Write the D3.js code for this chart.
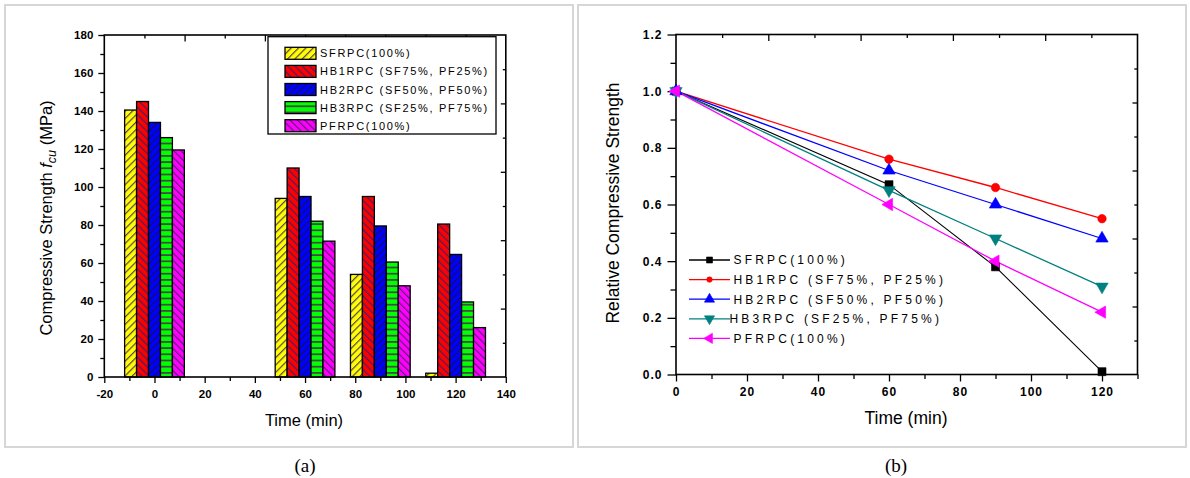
<!DOCTYPE html>
<html>
<head>
<meta charset="utf-8">
<script src="https://cdn.jsdelivr.net/npm/d3@7"></script>
<style>
  html, body { margin: 0; padding: 0; background: #fff; }
  svg { display: block; font-family: "Liberation Sans", Arial, sans-serif; }
</style>
</head>
<body>
<svg id="fig" width="1190" height="478"></svg>
<script>
// ---- data ----------------------------------------------------------
// curing / exposure times (min)
const times = [0, 60, 90, 120];
const seriesNames = [
  "SFRPC(100%)",
  "HB1RPC (SF75%, PF25%)",
  "HB2RPC (SF50%, PF50%)",
  "HB3RPC (SF25%, PF75%)",
  "PFRPC(100%)"
];
// compressive strength f_cu (MPa)
const strengthSF  = [140.5, 94, 54, 2];
const strengthHB1 = [145, 110, 95, 80.5];
const strengthHB2 = [134, 95, 79.5, 64.5];
const strengthHB3 = [126, 82, 60.5, 39.5];
const strengthPF  = [119.5, 71.5, 48, 26];
// relative compressive strength (f_cu(t) / f_cu(0))
const relSF  = [1.0, 0.67, 0.38, 0.01];
const relHB1 = [1.0, 0.76, 0.66, 0.55];
const relHB2 = [1.0, 0.72, 0.60, 0.48];
const relHB3 = [1.0, 0.65, 0.48, 0.31];
const relPF  = [1.0, 0.60, 0.40, 0.22];
// tick values
const barXTicks = [-20, 0, 20, 40, 60, 80, 100, 120, 140];
const barYTicks = [0, 20, 40, 60, 80, 100, 120, 140, 160, 180];
const relXTicks = [0, 20, 40, 60, 80, 100, 120];
const relYTicks = [0, 0.2, 0.4, 0.6, 0.8, 1.0, 1.2];

// ---- styling -------------------------------------------------------
const strengths = [strengthSF, strengthHB1, strengthHB2, strengthHB3, strengthPF];
const relatives = [relSF, relHB1, relHB2, relHB3, relPF];
const barFill   = ["#ffff00", "#ff0000", "#0000ff", "#00ff00", "#ff00ff"];
const hatchType = ["fwd", "back", "fwd", "horiz", "back"];
const hatchInk  = ["#5a4060", "#4a2060", "#10105a", "#484848", "#5a2070"];
const lineColor = ["#000000", "#ff0000", "#0000ff", "#008080", "#ff00ff"];
const markerKind = ["square", "circle", "up", "down", "left"];

const svg = d3.select("#fig");
const defs = svg.append("defs");

// hatch patterns
hatchType.forEach((t, i) => {
  const p = defs.append("pattern")
    .attr("id", "hatch" + i)
    .attr("patternUnits", "userSpaceOnUse");
  if (t === "horiz") {
    p.attr("width", 8).attr("height", 6.2);
    p.append("rect").attr("width", 8).attr("height", 6.2).attr("fill", barFill[i]);
    p.append("rect").attr("y", 0).attr("width", 8).attr("height", 1.8).attr("fill", hatchInk[i]);
  } else {
    p.attr("width", 5.2).attr("height", 10)
     .attr("patternTransform", t === "fwd" ? "rotate(45)" : "rotate(-45)");
    p.append("rect").attr("width", 5.2).attr("height", 10).attr("fill", barFill[i]);
    p.append("line").attr("x1", 0.6).attr("x2", 0.6).attr("y1", 0).attr("y2", 10)
      .attr("stroke", hatchInk[i]).attr("stroke-width", 1.2);
  }
});

// panel frames
svg.append("rect").attr("x", 5).attr("y", 5).attr("width", 568).attr("height", 442)
  .attr("fill", "none").attr("stroke", "#d6d6d6").attr("stroke-width", 2);
svg.append("rect").attr("x", 578).attr("y", 5).attr("width", 608).attr("height", 442)
  .attr("fill", "none").attr("stroke", "#d6d6d6").attr("stroke-width", 2);

// generic tick drawing (outward on bottom/left, inward on top/right)
function ticks(g, axisFn, scale, values, size, fmt, padding) {
  const a = axisFn(scale).tickValues(values).tickSize(size).tickPadding(padding || 3)
    .tickFormat(fmt || (() => ""));
  g.call(a);
  g.select(".domain").remove();
  g.selectAll(".tick line").attr("stroke", "#000").attr("stroke-width", 1.3);
  return g;
}

// ==== (a) bar chart =================================================
const xa = d3.scaleLinear().domain([-20, 140]).range([104.3, 505.8]);
const ya = d3.scaleLinear().domain([0, 180]).range([377, 35]);
const ga = svg.append("g");

const barW = 4.76; // bar width in time units
strengths.forEach((vals, i) => {
  ga.selectAll(null).data(times.map((t, k) => ({ t, v: vals[k] })))
    .enter().append("rect")
    .attr("x", d => xa(d.t + (i - 2.5) * barW))
    .attr("width", d => xa(d.t + (i - 1.5) * barW) - xa(d.t + (i - 2.5) * barW))
    .attr("y", d => ya(d.v))
    .attr("height", d => ya(0) - ya(d.v))
    .attr("fill", `url(#hatch${i})`)
    .attr("stroke", "#000").attr("stroke-width", 1.3);
});

// axes for (a)
const fmtInt = d => String(d);
const axA = ga.append("g").attr("font-weight", "bold");
ticks(axA.append("g").attr("transform", `translate(0,${ya(0)})`), d3.axisBottom, xa, barXTicks, 6, fmtInt, 7);
ticks(axA.append("g").attr("transform", `translate(0,${ya(0)})`), d3.axisBottom, xa, d3.range(-10, 140, 20), 4);
ticks(axA.append("g").attr("transform", `translate(${xa(-20)},0)`), d3.axisLeft, ya, barYTicks, 6, fmtInt, 5);
ticks(axA.append("g").attr("transform", `translate(${xa(-20)},0)`), d3.axisLeft, ya, d3.range(10, 180, 20), 4);
// mirrored top / right axes with their own ten divisions
const topA = d3.scaleLinear().domain([0, 10]).range(xa.range());
const rightA = d3.scaleLinear().domain([0, 10]).range(ya.range());
ticks(axA.append("g").attr("transform", `translate(0,${ya(180)})`), d3.axisBottom, topA, [2, 4, 6, 8], 6.5);
ticks(axA.append("g").attr("transform", `translate(0,${ya(180)})`), d3.axisBottom, topA, [1, 3, 5, 7, 9], 3.5);
ticks(axA.append("g").attr("transform", `translate(${xa(140)},0)`), d3.axisLeft, rightA, [2, 4, 6, 8], 5);
ticks(axA.append("g").attr("transform", `translate(${xa(140)},0)`), d3.axisLeft, rightA, [1, 3, 5, 7, 9], 3);
axA.selectAll("text").attr("font-size", 11.5).attr("fill", "#000")
  .attr("font-family", "'Liberation Sans', Arial, sans-serif");

ga.append("rect").attr("x", xa(-20)).attr("y", ya(180))
  .attr("width", xa(140) - xa(-20)).attr("height", ya(0) - ya(180))
  .attr("fill", "none").attr("stroke", "#000").attr("stroke-width", 1.6);

// axis titles (a)
ga.append("text").attr("x", 304).attr("y", 426).attr("text-anchor", "middle")
  .attr("font-size", 16.5).text("Time (min)");
const ytA = ga.append("text").attr("transform", "translate(52,218) rotate(-90)")
  .attr("text-anchor", "middle").attr("font-size", 16.5);
ytA.append("tspan").text("Compressive Strength ");
ytA.append("tspan").attr("font-style", "italic").text("f");
ytA.append("tspan").attr("font-style", "italic").attr("font-size", 12.5).attr("dy", 4).text("cu");
ytA.append("tspan").attr("dy", -4).text(" (MPa)");

// legend (a)
const legA = ga.append("g");
legA.append("rect").attr("x", 268).attr("y", 36.7).attr("width", 228).attr("height", 97.3)
  .attr("fill", "#fff").attr("stroke", "#000").attr("stroke-width", 1.3);
seriesNames.forEach((name, i) => {
  const cy = 53.3 + i * 18.1;
  legA.append("rect").attr("x", 285).attr("y", cy - 6).attr("width", 31).attr("height", 12)
    .attr("fill", `url(#hatch${i})`).attr("stroke", "#000").attr("stroke-width", 1.3);
  legA.append("text").attr("x", 320).attr("y", cy + 4).attr("font-size", 11)
    .attr("letter-spacing", "1.7px").text(name);
});

svg.append("text").attr("x", 305).attr("y", 472).attr("text-anchor", "middle")
  .attr("font-family", "'Liberation Serif', 'Times New Roman', serif").attr("font-size", 19)
  .text("(a)");

// ==== (b) line chart ================================================
const xb = d3.scaleLinear().domain([0, 130]).range([676, 1137.5]);
const yb = d3.scaleLinear().domain([0, 1.2]).range([374.5, 34.5]);
const gb = svg.append("g");

const axB = gb.append("g").attr("font-weight", "bold");
ticks(axB.append("g").attr("transform", `translate(0,${yb(0)})`), d3.axisBottom, xb, relXTicks, 7, fmtInt, 6);
ticks(axB.append("g").attr("transform", `translate(0,${yb(0)})`), d3.axisBottom, xb, d3.range(10, 131, 20), 4.5);
ticks(axB.append("g").attr("transform", `translate(${xb(0)},0)`), d3.axisLeft, yb, relYTicks, 8.5, d3.format(".1f"), 5);
ticks(axB.append("g").attr("transform", `translate(${xb(0)},0)`), d3.axisLeft, yb, [0.1, 0.3, 0.5, 0.7, 0.9, 1.1], 5.5);
const topB = d3.scaleLinear().domain([0, 10]).range(xb.range());
const rightB = d3.scaleLinear().domain([0, 10]).range(yb.range());
ticks(axB.append("g").attr("transform", `translate(0,${yb(1.2)})`), d3.axisBottom, topB, [2, 4, 6, 8], 6.5);
ticks(axB.append("g").attr("transform", `translate(0,${yb(1.2)})`), d3.axisBottom, topB, [1, 3, 5, 7, 9], 3.5);
ticks(axB.append("g").attr("transform", `translate(${xb(130)},0)`), d3.axisLeft, rightB, [2, 4, 6, 8], 5);
ticks(axB.append("g").attr("transform", `translate(${xb(130)},0)`), d3.axisLeft, rightB, [1, 3, 5, 7, 9], 3.2);
axB.selectAll("text").attr("font-size", 12).attr("fill", "#000").attr("letter-spacing", "1px")
  .attr("font-family", "'Liberation Sans', Arial, sans-serif");

gb.append("rect").attr("x", xb(0)).attr("y", yb(1.2))
  .attr("width", xb(130) - xb(0)).attr("height", yb(0) - yb(1.2))
  .attr("fill", "none").attr("stroke", "#000").attr("stroke-width", 1.6);

// marker shapes
function marker(sel, kind, color, s) {
  const sym = {
    square: [d3.symbolSquare, 0],
    circle: [d3.symbolCircle, 0],
    up: [d3.symbolTriangle, 0],
    down: [d3.symbolTriangle, 180],
    left: [d3.symbolTriangle, -90]
  }[kind];
  const area = kind === "square" ? s * s : kind === "circle" ? Math.PI * s * s / 4 : s * s * 0.5;
  sel.append("path").attr("d", d3.symbol().type(sym[0]).size(area)())
    .attr("transform", `rotate(${sym[1]})`)
    .attr("fill", color).attr("stroke", color).attr("stroke-width", 0.6);
}

const line = d3.line().x((d, k) => xb(times[k])).y(d => yb(d));
relatives.forEach((vals, i) => {
  gb.append("path").datum(vals).attr("d", line).attr("fill", "none")
    .attr("stroke", lineColor[i]).attr("stroke-width", i === 0 ? 1.1 : 1.3);
});
relatives.forEach((vals, i) => {
  vals.forEach((v, k) => {
    const m = gb.append("g").attr("transform", `translate(${xb(times[k])},${yb(v)})`);
    marker(m, markerKind[i], lineColor[i], markerKind[i] === "square" ? 8 : markerKind[i] === "circle" ? 8.5 : 11.5);
  });
});

// legend (b)
seriesNames.forEach((name, i) => {
  const cy = 260 + i * 19.6;
  gb.append("line").attr("x1", 689).attr("x2", 730).attr("y1", cy).attr("y2", cy)
    .attr("stroke", lineColor[i]).attr("stroke-width", 1.3);
  const m = gb.append("g").attr("transform", `translate(709.5,${cy})`);
  marker(m, markerKind[i], lineColor[i], markerKind[i] === "square" ? 6 : markerKind[i] === "circle" ? 5.5 : 9.5);
  gb.append("text").attr("x", i === 3 ? 729.5 : 733.5).attr("y", cy + 4.3).attr("font-size", 12)
    .attr("letter-spacing", "3.2px").text(name);
});

// axis titles (b)
gb.append("text").attr("x", 906).attr("y", 424).attr("text-anchor", "middle")
  .attr("font-size", 17.5).text("Time (min)");
gb.append("text").attr("transform", "translate(619,203) rotate(-90)")
  .attr("text-anchor", "middle").attr("font-size", 17.5).text("Relative Compressive Strength");

svg.append("text").attr("x", 896).attr("y", 472).attr("text-anchor", "middle")
  .attr("font-family", "'Liberation Serif', 'Times New Roman', serif").attr("font-size", 19)
  .text("(b)");
</script>
</body>
</html>
